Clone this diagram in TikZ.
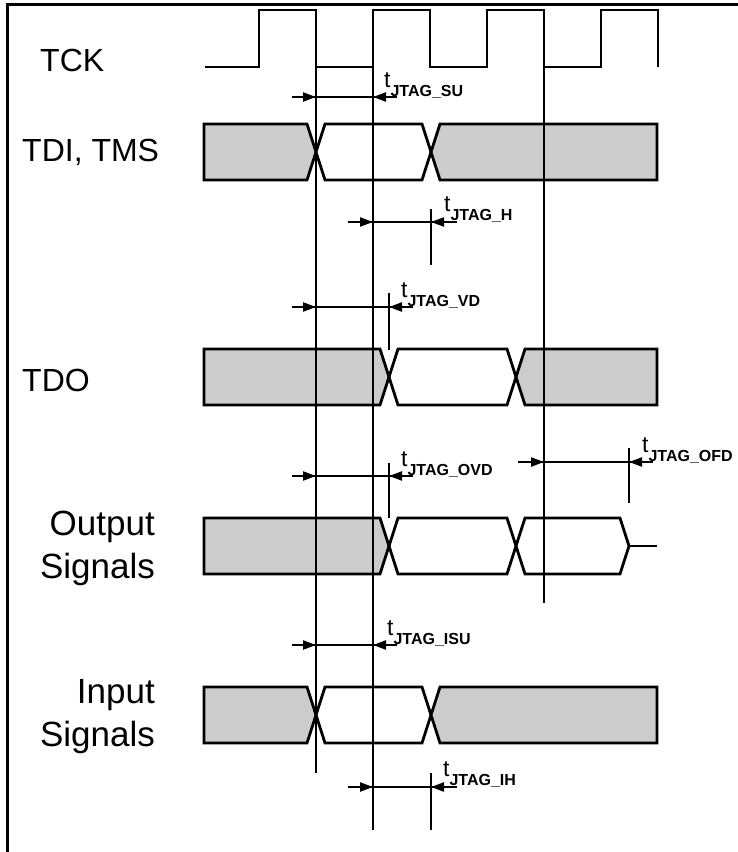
\documentclass[tikz,border=0pt]{standalone}
\usepackage{fontspec}
\setmainfont{Liberation Sans}
\usetikzlibrary{arrows.meta}

\newcommand{\tdly}[1]{{\fontsize{23}{23}\selectfont t}\raisebox{-9pt}{\fontsize{16}{16}\selectfont\bfseries #1}}

\begin{document}
\begin{tikzpicture}[x=1pt, y=-1pt,
  wave/.style={line width=2.8pt, line join=miter},
  busfill/.style={wave, fill=black!20},
  tline/.style={line width=1.1pt},
  tlineb/.style={line width=1.9pt},
  dimline/.style={line width=2.2pt},
  dimtip/.style={line width=2.2pt, -{Triangle[length=13pt,width=9pt]}},
  siglabel/.style={font=\fontsize{32}{36}\selectfont, anchor=west, inner sep=0pt},
  grplabel/.style={font=\fontsize{35}{43}\selectfont, align=right, anchor=east, inner sep=0pt},
  dlylabel/.style={anchor=base west, inner sep=0pt}]
        \useasboundingbox (0,0) rectangle (738,852);
        % frame
        \draw[line width=3pt] (7,852) -- (7,4) -- (738,4);

        % signal names
        \node[siglabel] (tck) at (40,60) {TCK};
        \node[siglabel] (tdi) at (22,152) {TDI, TMS};
        \node[siglabel] (tdo) at (22,380) {TDO};
        \node[grplabel] (out) at (155,548) {Output\\Signals};
        \node[grplabel] (in) at (155,717) {Input\\Signals};

        % TCK
        \draw[wave] (205,67) -- (259,67) -- (259,10) -- (316,10) -- (316,67) -- (373,67) -- (373,10) -- (430,10) -- (430,67)
            -- (487,67) -- (487,10) -- (544,10) -- (544,67) -- (601,67) -- (601,10) -- (658,10) -- (658,67);

        % TDI, TMS
        \draw[busfill] (204,124) -- (307,124) -- (316,152) -- (307,180) -- (204,180) -- cycle;
        \draw[wave] (325,124) -- (422,124) -- (431,152) -- (422,180) -- (325,180) -- (316,152) -- cycle;
        \draw[busfill] (440,124) -- (657,124) -- (657,180) -- (440,180) -- (431,152) -- cycle;

        % TDO
        \draw[busfill] (204,349) -- (380,349) -- (389,377) -- (380,405) -- (204,405) -- cycle;
        \draw[wave] (398,349) -- (507,349) -- (516,377) -- (507,405) -- (398,405) -- (389,377) -- cycle;
        \draw[busfill] (525,349) -- (657,349) -- (657,405) -- (525,405) -- (516,377) -- cycle;

        % Output signals
        \draw[busfill] (204,518) -- (380,518) -- (389,546) -- (380,574) -- (204,574) -- cycle;
        \draw[wave] (398,518) -- (507,518) -- (516,546) -- (507,574) -- (398,574) -- (389,546) -- cycle;
        \draw[wave] (525,518) -- (620,518) -- (629,546) -- (620,574) -- (525,574) -- (516,546) -- cycle;
        \draw[wave] (629,546) -- (657,546);

        % Input signals
        \draw[busfill] (204,687) -- (307,687) -- (316,715) -- (307,743) -- (204,743) -- cycle;
        \draw[wave] (325,687) -- (422,687) -- (431,715) -- (422,743) -- (325,743) -- (316,715) -- cycle;
        \draw[busfill] (440,687) -- (657,687) -- (657,743) -- (440,743) -- (431,715) -- cycle;

        % timing reference lines
        \draw[tline] (316,67) -- (316,773);
        \draw[tline] (373,67) -- (373,830);
        \draw[tline] (544,67) -- (544,603);
        \draw[tlineb] (431,209) -- (431,265);
        \draw[tlineb] (431,773) -- (431,830);
        \draw[tline] (389,293) -- (389,350);
        \draw[tline] (389,463) -- (389,518);
        \draw[tlineb] (629,448) -- (629,503);

        % setup / hold / delay dimensions
        \draw[dimline] (292,97) -- (397,97);
        \draw[dimtip] (292,97) -- (316,97);
        \draw[dimtip] (397,97) -- (373,97);
        \node[dlylabel] (su) at (384,87) {\tdly{JTAG\_SU}};

        \draw[dimline] (348,222) -- (457,222);
        \draw[dimtip] (348,222) -- (373,222);
        \draw[dimtip] (457,222) -- (431,222);
        \node[dlylabel] (h) at (444,211) {\tdly{JTAG\_H}};

        \draw[dimline] (292,307) -- (413,307);
        \draw[dimtip] (292,307) -- (316,307);
        \draw[dimtip] (413,307) -- (389,307);
        \node[dlylabel] (vd) at (401,297) {\tdly{JTAG\_VD}};

        \draw[dimline] (292,476) -- (413,476);
        \draw[dimtip] (292,476) -- (316,476);
        \draw[dimtip] (413,476) -- (389,476);
        \node[dlylabel] (ovd) at (401,466) {\tdly{JTAG\_OVD}};

        \draw[dimline] (518,462) -- (653,462);
        \draw[dimtip] (518,462) -- (544,462);
        \draw[dimtip] (653,462) -- (629,462);
        \node[dlylabel] (ofd) at (642,452) {\tdly{JTAG\_OFD}};

        \draw[dimline] (292,645) -- (397,645);
        \draw[dimtip] (292,645) -- (316,645);
        \draw[dimtip] (397,645) -- (373,645);
        \node[dlylabel] (isu) at (387,635) {\tdly{JTAG\_ISU}};

        \draw[dimline] (348,787) -- (457,787);
        \draw[dimtip] (348,787) -- (373,787);
        \draw[dimtip] (457,787) -- (431,787);
        \node[dlylabel] (ih) at (443,776) {\tdly{JTAG\_IH}};
    \end{tikzpicture}
\end{document}
